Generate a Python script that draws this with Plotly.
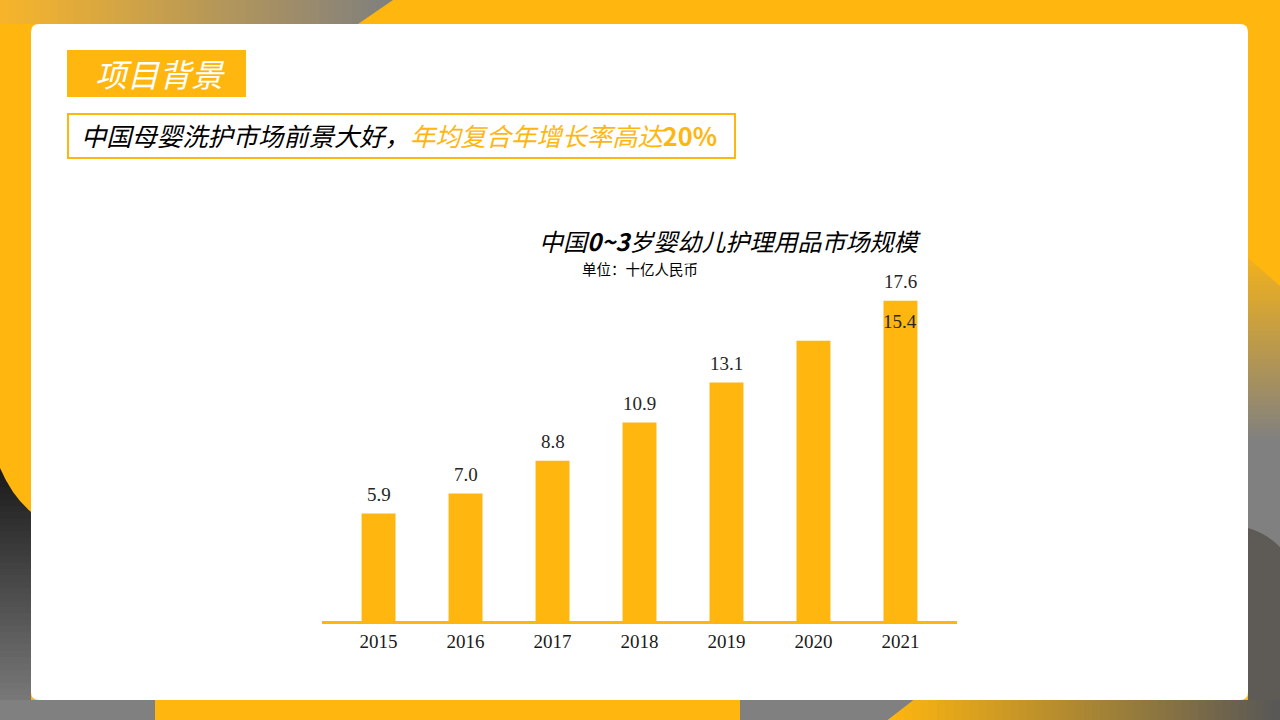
import plotly.graph_objects as go

# ---------------- data ----------------
years = ["2015", "2016", "2017", "2018", "2019", "2020", "2021"]
values = [5.9, 7.0, 8.8, 10.9, 13.1, 15.4, 17.6]
label_texts = ["5.9", "7.0", "8.8", "10.9", "13.1", "15.4", "17.6"]
# in the original slide the 2020 label sits over the 2021 bar
label_years = ["2015", "2016", "2017", "2018", "2019", "2021", "2021"]

chart_title = "中国<b>0~3</b>岁婴幼儿护理用品市场规模"
unit_text = "单位：十亿人民币"
header_text = "项目背景"
sub_black = "中国母婴洗护市场前景大好，"
sub_yellow = "年均复合年增长率高达"
sub_bold = "20%"

# ---------------- styling ----------------
YEL = "#FFB60F"
CJK = "Noto Sans CJK SC"
SERIF = "Liberation Serif"

W_PX, H_PX = 1280, 720
L, R, T, B = 322, 957, 200, 621          # plot area in pixels
PW, PH = R - L, B - T
PX_PER_UNIT = 18.2
y_top = PH / PX_PER_UNIT


def px(x):
    return (x - L) / PW


def py(y):
    return (B - y) / PH


def hexrgb(h):
    h = h.lstrip("#")
    return tuple(int(h[i:i + 2], 16) for i in (0, 2, 4))


def mix(c1, c2, t):
    a, b = hexrgb(c1), hexrgb(c2)
    return "rgb(%d,%d,%d)" % tuple(round(a[i] + (b[i] - a[i]) * t) for i in range(3))


shapes = []


def rect(x0, y0, x1, y1, color, line=None, lw=0):
    shapes.append(dict(type="rect", xref="paper", yref="paper",
                       x0=px(x0), x1=px(x1), y0=py(y0), y1=py(y1),
                       fillcolor=color, line=dict(width=lw, color=line or color),
                       layer="below"))


def path(points_cmd, color):
    shapes.append(dict(type="path", xref="paper", yref="paper", path=points_cmd,
                       fillcolor=color, line=dict(width=0), layer="below"))


def P(x, y):
    return "%.5f,%.5f" % (px(x), py(y))


def hgrad(x0, x1, y0, y1, c0, c1, n=48):
    step = (x1 - x0) / n
    for i in range(n):
        a = x0 + i * step
        rect(a, y0, a + step + 0.8, y1, mix(c0, c1, (i + 0.5) / n))


def vgrad(x0, x1, y0, y1, c0, c1, n=40):
    step = (y1 - y0) / n
    for i in range(n):
        a = y0 + i * step
        rect(x0, a, x1, a + step + 0.8, mix(c0, c1, (i + 0.5) / n))


# ---- slide background decorations ----
hgrad(0, 393, 0, 24, "#F8B52A", "#7F7F7F")
path("M" + P(358, 24) + " L" + P(393, 0) + " L" + P(400, 0) + " L" + P(400, 24) + " Z", YEL)

vgrad(0, 31, 468, 720, "#1A1A1A", "#808080")
path("M" + P(0, 468) + " Q" + P(12, 496) + " " + P(31, 512) + " L" + P(31, 466) + " L" + P(0, 466) + " Z", YEL)

rect(0, 700, 155, 720, "#808080")
rect(740, 700, 913, 720, "#808080")
hgrad(888, 1280, 700, 720, YEL, "#575757")
path("M" + P(887, 700) + " L" + P(913.5, 700) + " L" + P(887, 720.5) + " Z", "#808080")

vgrad(1248, 1280, 258, 442, "#F2B11C", "#808080")
rect(1248, 440, 1280, 700, "#808080")
path("M" + P(1248, 528) + " Q" + P(1266, 533) + " " + P(1280, 547) + " L" + P(1280, 700)
     + " L" + P(1248, 700) + " Z", "#5E5B57")
path("M" + P(1247, 257) + " L" + P(1281, 257) + " L" + P(1281, 287) + " Z", YEL)

r = 8
x0c, x1c, y0c, y1c = 31, 1248, 24, 700
card = ("M" + P(x0c + r, y0c) + " L" + P(x1c - r, y0c) + " Q" + P(x1c, y0c) + " " + P(x1c, y0c + r)
        + " L" + P(x1c, y1c - r) + " Q" + P(x1c, y1c) + " " + P(x1c - r, y1c)
        + " L" + P(x0c + r, y1c) + " Q" + P(x0c, y1c) + " " + P(x0c, y1c - r)
        + " L" + P(x0c, y0c + r) + " Q" + P(x0c, y0c) + " " + P(x0c + r, y0c) + " Z")
path(card, "#FFFFFF")

rect(67, 50, 246, 97, YEL)
rect(68, 114, 735, 158, "#FFFFFF", line=YEL, lw=2)

# ---------------- figure ----------------
fig = go.Figure()
fig.add_trace(go.Bar(x=years, y=values, marker=dict(color=YEL, line=dict(width=0)),
                     width=0.39, hoverinfo="skip"))

annotations = []
for lx, v, t in zip(label_years, values, label_texts):
    annotations.append(dict(x=years.index(lx), y=v, xref="x", yref="y", text=t,
                            showarrow=False, yanchor="middle", yshift=19,
                            font=dict(family=SERIF, size=19, color="#262626")))

annotations += [
    dict(xref="paper", yref="paper", x=px(93), y=py(73), xanchor="left", yanchor="middle",
         text="<i>" + header_text + "</i>", showarrow=False,
         font=dict(family=CJK, size=32, color="#FFFFFF")),
    dict(xref="paper", yref="paper", x=px(79), y=py(135), xanchor="left", yanchor="middle",
         text="<i>" + sub_black + "</i><span style='color:" + YEL + "'><i>" + sub_yellow
              + "</i><b>" + sub_bold + "</b></span>",
         showarrow=False, font=dict(family=CJK, size=25.3, color="#000000")),
    dict(xref="paper", yref="paper", x=px(730), y=py(240), xanchor="center", yanchor="middle",
         text="<i>" + chart_title + "</i>", showarrow=False,
         font=dict(family=CJK, size=24, color="#000000")),
    dict(xref="paper", yref="paper", x=px(580), y=py(268), xanchor="left", yanchor="middle",
         text=unit_text, showarrow=False,
         font=dict(family=CJK, size=14.5, color="#000000")),
]

fig.update_layout(
    width=W_PX, height=H_PX,
    margin=dict(l=L, r=W_PX - R, t=T, b=H_PX - B, pad=0),
    paper_bgcolor=YEL, plot_bgcolor="rgba(0,0,0,0)",
    showlegend=False,
    shapes=shapes, annotations=annotations,
    xaxis=dict(type="category", categoryarray=years, categoryorder="array",
               range=[-0.65, 6.65], showgrid=False, zeroline=False,
               showline=True, linecolor=YEL, linewidth=3, ticks="",
               tickfont=dict(family=SERIF, size=19, color="#1a1a1a"),
               ticklabelstandoff=1, fixedrange=True),
    yaxis=dict(range=[0, y_top], visible=False, fixedrange=True),
)

fig.write_html("out.html", config={"displayModeBar": False},
               post_script="document.body.style.margin='0';document.body.style.overflow='hidden';")
